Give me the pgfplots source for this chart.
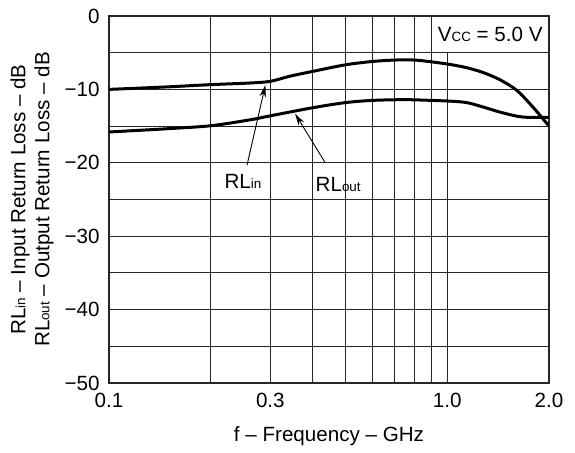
\documentclass[border=0pt]{standalone}
\usepackage{fontspec}
\setmainfont{Liberation Sans}
\usepackage{pgfplots}
\pgfplotsset{compat=1.18}
\usetikzlibrary{arrows.meta}
\newcommand\sub[1]{{\fontsize{6.7}{7}\selectfont #1}}

\begin{document}
\fontsize{10.3}{12}\selectfont
\begin{tikzpicture}
\begin{axis}[name=ax, xmode=log, scale only axis,
    width=220pt, height=183.5pt,
    xmin=0.1, xmax=2, ymin=-50, ymax=0,
    xtick={0.1,0.3,1,2}, xticklabels={0.1,0.3,1.0,2.0},
    minor xtick={0.2,0.4,0.5,0.6,0.7,0.8,0.9},
    ytick={-50,-40,-30,-20,-10,0},
    yticklabels={−50,−40,−30,−20,−10,0},
    minor ytick={-45,-35,-25,-15,-5},
    grid=both,
    major grid style={black!85, line width=0.5pt},
    minor grid style={black!85, line width=0.5pt},
    major tick length=0pt, minor tick length=0pt,
    axis line style={black!85, line width=0.6pt},
    xticklabel style={anchor=base, inner sep=0pt, yshift=-12.5pt},
    yticklabel style={anchor=east, inner sep=0pt, xshift=-4.5pt},
    xlabel={f – Frequency – GHz},
    ylabel={RL\sub{in} – Input Return Loss – dB\\RL\sub{out} – Output Return Loss – dB},
    every axis x label/.style={at={(axis description cs:0.5,0)}, yshift=-26.5pt, anchor=center},
    every axis y label/.style={at={(axis description cs:0,0.5)}, xshift=-38.5pt,
        rotate=90, anchor=center, align=center},
]
% RLin
\addplot[black, line width=1.5pt, smooth, tension=0.5] coordinates {
    (0.1,-10.0) (0.15,-9.65) (0.2,-9.35) (0.261,-9.13) (0.3,-8.9)
    (0.343,-8.2) (0.4,-7.55) (0.5,-6.65) (0.6,-6.2) (0.7,-6.0)
    (0.8,-6.0) (0.9,-6.25) (1.02,-6.6) (1.143,-7.05) (1.277,-7.7)
    (1.434,-8.7) (1.608,-10.15) (1.8,-12.5) (2.0,-15.0)};
% RLout
\addplot[black, line width=1.5pt, smooth, tension=0.5] coordinates {
    (0.1,-15.8) (0.15,-15.35) (0.2,-14.95) (0.261,-14.15) (0.3,-13.6)
    (0.4,-12.5) (0.5,-11.8) (0.6,-11.5) (0.726,-11.4) (0.8,-11.42)
    (0.9,-11.5) (1.02,-11.6) (1.143,-11.8) (1.277,-12.4) (1.434,-13.1)
    (1.608,-13.65) (1.72,-13.8) (1.85,-13.8) (2.0,-13.8)};
% Vcc box
\fill[white] (axis cs:0.934,-0.15) rectangle (axis cs:1.99,-4.85);
\node at (axis cs:1.34,-2.5) {V\sub{CC} = 5.0 V};
% annotations
\node at (axis cs:0.249,-22.6) {RL\sub{in}};
\draw[-{Stealth[length=6pt,width=3.2pt]}, line width=0.45pt]
    (axis cs:0.256,-20.3) -- (axis cs:0.29,-9.4);
\node at (axis cs:0.476,-22.9) {RL\sub{out}};
\draw[-{Stealth[length=6pt,width=3.2pt]}, line width=0.45pt]
    (axis cs:0.436,-20.0) -- (axis cs:0.355,-13.3);
\end{axis}
\pgfresetboundingbox
\path ([xshift=-54.5pt,yshift=-35pt]ax.south west) rectangle ([xshift=13pt,yshift=8pt]ax.north east);
\end{tikzpicture}
\end{document}
